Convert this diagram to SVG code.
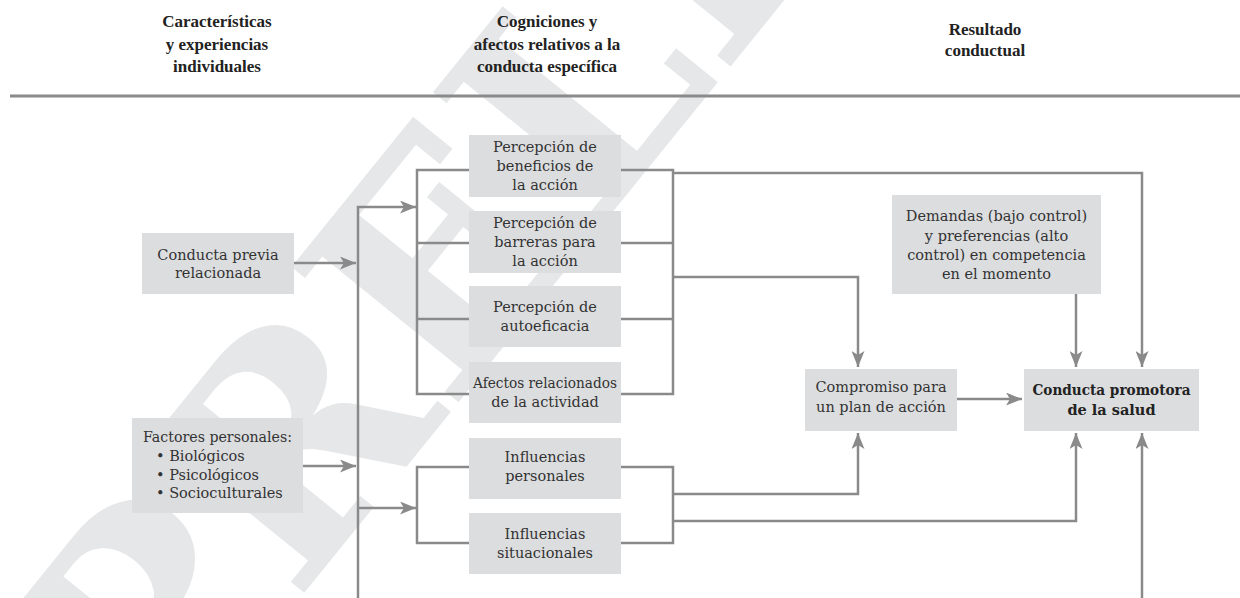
<svg xmlns="http://www.w3.org/2000/svg" width="1240" height="598" viewBox="0 0 1240 598">
<style>
.box{fill:#dcdddf}
.t{font-family:"DejaVu Serif","Liberation Serif",serif;font-size:14.5px;fill:#333;text-anchor:middle}
.tl{font-family:"DejaVu Serif","Liberation Serif",serif;font-size:14.5px;fill:#333}
.b{font-weight:bold;fill:#222}
.h{font-family:"Liberation Serif",serif;font-weight:bold;font-size:17px;fill:#222;text-anchor:middle}
.ln{stroke:#8a8a8a;stroke-width:2.5;fill:none}
.wm{font-family:"DejaVu Serif",serif;font-weight:bold;font-size:295px;fill:#e6e7e8}
</style>
<defs>
<marker id="ah" markerUnits="userSpaceOnUse" markerWidth="17" markerHeight="13" refX="16" refY="6.5" orient="auto">
<path d="M0,0 L16,6.5 L0,13 L4,6.5 Z" fill="#8a8a8a"/>
</marker>
</defs>
<rect width="1240" height="598" fill="#fff"/>
<text class="wm" x="156" y="776" transform="rotate(-51 156 776)">PRELI</text>
<g id="headers">
<text class="h" x="217" y="27">Características</text>
<text class="h" x="217" y="50">y experiencias</text>
<text class="h" x="217" y="72">individuales</text>
<text class="h" x="547" y="27">Cogniciones y</text>
<text class="h" x="547" y="50">afectos relativos a la</text>
<text class="h" x="547" y="72">conducta específica</text>
<text class="h" x="985" y="35">Resultado</text>
<text class="h" x="985" y="56">conductual</text>
<line x1="10" y1="96" x2="1240" y2="96" stroke="#8a8a8a" stroke-width="3"/>
</g>
<g id="connectors">
<path class="ln" d="M294,263 H356" marker-end="url(#ah)"/>
<path class="ln" d="M303,466 H356" marker-end="url(#ah)"/>
<path class="ln" d="M358,598 V207 H416" marker-end="url(#ah)"/>
<path class="ln" d="M358,508 H416" marker-end="url(#ah)"/>
<path class="ln" d="M469,170 H417 V394 H469 M417,243 H469 M417,319 H469"/>
<path class="ln" d="M621,170 H673 V394 H621 M621,243 H673 M621,319 H673"/>
<path class="ln" d="M673,173 H1142 V367" marker-end="url(#ah)"/>
<path class="ln" d="M673,277 H858 V367" marker-end="url(#ah)"/>
<path class="ln" d="M469,467 H417 V543 H469"/>
<path class="ln" d="M621,467 H673 V543 H621"/>
<path class="ln" d="M673,494 H858 V433" marker-end="url(#ah)"/>
<path class="ln" d="M673,521 H1076 V433" marker-end="url(#ah)"/>
<path class="ln" d="M1076,294 V367" marker-end="url(#ah)"/>
<path class="ln" d="M957,399 H1022" marker-end="url(#ah)"/>
<path class="ln" d="M1142,598 V433" marker-end="url(#ah)"/>
</g>
<g id="conducta-previa">
<rect class="box" x="142" y="233" width="152" height="61"/>
<text class="t" x="218" y="260">Conducta previa</text>
<text class="t" x="218" y="278">relacionada</text>
</g>
<g id="factores-personales">
<rect class="box" x="132" y="418" width="171" height="95"/>
<text class="tl" x="143" y="442" textLength="149" lengthAdjust="spacingAndGlyphs">Factores personales:</text>
<text class="tl" x="156" y="461">• Biológicos</text>
<text class="tl" x="156" y="480">• Psicológicos</text>
<text class="tl" x="156" y="498">• Socioculturales</text>
</g>
<g id="beneficios">
<rect class="box" x="469" y="135" width="152" height="62"/>
<text class="t" x="545" y="152">Percepción de</text>
<text class="t" x="545" y="171">beneficios de</text>
<text class="t" x="545" y="190">la acción</text>
</g>
<g id="barreras">
<rect class="box" x="469" y="211" width="152" height="62"/>
<text class="t" x="545" y="228">Percepción de</text>
<text class="t" x="545" y="247">barreras para</text>
<text class="t" x="545" y="266">la acción</text>
</g>
<g id="autoeficacia">
<rect class="box" x="469" y="286" width="152" height="61"/>
<text class="t" x="545" y="312">Percepción de</text>
<text class="t" x="545" y="331">autoeficacia</text>
</g>
<g id="afectos">
<rect class="box" x="469" y="362" width="152" height="61"/>
<text class="t" x="545" y="388" textLength="144" lengthAdjust="spacingAndGlyphs">Afectos relacionados</text>
<text class="t" x="545" y="407">de la actividad</text>
</g>
<g id="influencias-personales">
<rect class="box" x="469" y="438" width="152" height="61"/>
<text class="t" x="545" y="462">Influencias</text>
<text class="t" x="545" y="481">personales</text>
</g>
<g id="influencias-situacionales">
<rect class="box" x="469" y="513" width="152" height="61"/>
<text class="t" x="545" y="539">Influencias</text>
<text class="t" x="545" y="558">situacionales</text>
</g>
<g id="demandas">
<rect class="box" x="892" y="195" width="209" height="99"/>
<text class="t" x="996.5" y="221">Demandas (bajo control)</text>
<text class="t" x="996.5" y="241">y preferencias (alto</text>
<text class="t" x="996.5" y="260">control) en competencia</text>
<text class="t" x="996.5" y="279">en el momento</text>
</g>
<g id="compromiso">
<rect class="box" x="805" y="369" width="152" height="62"/>
<text class="t" x="881" y="392">Compromiso para</text>
<text class="t" x="881" y="412">un plan de acción</text>
</g>
<g id="conducta-promotora">
<rect class="box" x="1024" y="369" width="175" height="62"/>
<text class="t b" x="1111.5" y="395" textLength="158" lengthAdjust="spacingAndGlyphs">Conducta promotora</text>
<text class="t b" x="1111.5" y="415">de la salud</text>
</g>
</svg>
